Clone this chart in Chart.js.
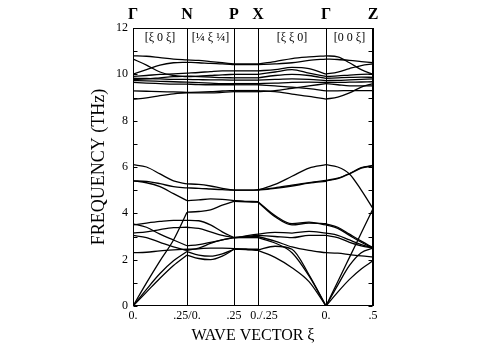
<!DOCTYPE html>
<html><head><meta charset="utf-8">
<script src="https://cdn.jsdelivr.net/npm/chart.js@4/dist/chart.umd.min.js"></script>
<style>html,body{margin:0;padding:0;background:#fff}canvas{display:block}</style>
</head><body>
<canvas id="c" width="477" height="351"></canvas>
<script>
// ---- data ----
const pointLabels = ['Γ', 'N', 'P', 'X', 'Γ', 'Z'];
const pathBreaks = [0, 54, 101, 125, 193, 240];          // path coordinate of each symmetry point
const xTickLabels = ['0.', '.25/0.', '.25', '    0./.25', '0.', '.5'];
const directionLabels = ['[ξ 0 ξ]', '[¼ ξ ¼]', '', '[ξ ξ 0]', '[0 0 ξ]'];
const samplePos = [0, 0.25, 0.5, 0.75, 1];              // fraction along each segment
const freqTicks = [0, 1, 2, 3, 4, 5, 6, 7, 8, 9, 10, 11, 12];

// frequencies (THz) of each branch at samplePos, per segment
const branchesGN = [
  [0, 0.6, 1.2, 1.75, 2.2],
  [0, 0.72, 1.4, 1.95, 2.35],
  [0, 1.0, 1.95, 2.85, 4.05],
  [2.3, 2.32, 2.38, 2.42, 2.45],
  [3.05, 2.95, 2.75, 2.55, 2.4],
  [3.15, 3.2, 3.3, 3.38, 3.4],
  [3.5, 3.58, 3.65, 3.7, 3.7],
  [3.55, 3.4, 3.1, 2.85, 2.6],
  [5.4, 5.38, 5.28, 5.15, 5.1],
  [5.4, 5.32, 5.15, 4.85, 4.55],
  [6.1, 6.0, 5.7, 5.4, 5.27],
  [10.8, 10.78, 10.72, 10.66, 10.62],
  [10.66, 10.4, 10.1, 9.95, 9.9],
  [10.01, 10.2, 10.4, 10.5, 10.52],
  [9.91, 9.95, 10.0, 10.02, 10.05],
  [9.83, 9.82, 9.8, 9.78, 9.78],
  [9.73, 9.72, 9.7, 9.68, 9.66],
  [9.65, 9.62, 9.6, 9.58, 9.58],
  [9.29, 9.27, 9.25, 9.24, 9.22],
  [8.93, 8.98, 9.08, 9.16, 9.2],
  [9.78, 9.8, 9.85, 9.9, 9.92]
];
const branchesNP = [
  [2.2, 2.05, 2.0, 2.15, 2.45],
  [2.35, 2.2, 2.15, 2.25, 2.45],
  [4.05, 4.08, 4.15, 4.35, 4.52],
  [2.45, 2.47, 2.5, 2.5, 2.48],
  [2.4, 2.5, 2.7, 2.85, 2.95],
  [3.4, 3.35, 3.2, 3.05, 2.95],
  [3.7, 3.68, 3.5, 3.2, 2.95],
  [2.6, 2.65, 2.75, 2.85, 2.95],
  [5.1, 5.08, 5.05, 5.02, 5.0],
  [4.55, 4.58, 4.62, 4.6, 4.55],
  [5.27, 5.25, 5.18, 5.08, 5.0],
  [10.62, 10.6, 10.55, 10.5, 10.45],
  [10.52, 10.5, 10.47, 10.45, 10.42],
  [10.05, 10.08, 10.12, 10.15, 10.15],
  [9.9, 9.92, 9.95, 9.98, 10.0],
  [9.92, 9.9, 9.88, 9.86, 9.85],
  [9.78, 9.77, 9.76, 9.76, 9.75],
  [9.66, 9.64, 9.62, 9.6, 9.6],
  [9.58, 9.56, 9.55, 9.55, 9.55],
  [9.22, 9.23, 9.25, 9.28, 9.3],
  [9.2, 9.2, 9.2, 9.22, 9.25]
];
const branchesPX = [
  [2.45, 2.44, 2.43, 2.42, 2.4],
  [2.45, 2.45, 2.44, 2.43, 2.42],
  [2.48, 2.47, 2.46, 2.45, 2.45],
  [2.95, 2.95, 2.95, 2.95, 2.95],
  [2.95, 2.96, 2.97, 2.99, 3.0],
  [2.95, 2.97, 3.0, 3.03, 3.05],
  [2.95, 2.98, 3.03, 3.07, 3.1],
  [4.52, 4.51, 4.5, 4.49, 4.48],
  [4.55, 4.54, 4.52, 4.51, 4.5],
  [5.0, 5.0, 5.0, 5.0, 5.0],
  [5.0, 5.0, 5.0, 5.0, 5.02],
  [10.45, 10.45, 10.45, 10.45, 10.45],
  [10.42, 10.42, 10.42, 10.42, 10.42],
  [10.15, 10.15, 10.15, 10.15, 10.15],
  [10.0, 10.0, 10.0, 10.0, 10.0],
  [9.85, 9.85, 9.85, 9.85, 9.85],
  [9.75, 9.75, 9.75, 9.75, 9.75],
  [9.6, 9.6, 9.6, 9.6, 9.6],
  [9.55, 9.55, 9.55, 9.55, 9.55],
  [9.3, 9.3, 9.3, 9.3, 9.3],
  [9.25, 9.25, 9.25, 9.25, 9.25]
];
const branchesXG = [
  [5.0, 5.25, 5.6, 5.95, 6.1],
  [5.0, 5.08, 5.18, 5.3, 5.38],
  [5.02, 5.1, 5.22, 5.33, 5.42],
  [4.5, 3.9, 3.55, 3.62, 3.5],
  [4.48, 3.85, 3.5, 3.58, 3.55],
  [3.1, 3.18, 3.15, 3.22, 3.15],
  [3.05, 3.0, 2.95, 3.05, 3.05],
  [3.0, 2.8, 2.55, 2.4, 2.3],
  [2.95, 2.72, 2.3, 1.3, 0],
  [2.42, 2.58, 2.45, 1.35, 0],
  [2.4, 2.1, 1.65, 1.05, 0],
  [10.45, 10.55, 10.68, 10.75, 10.8],
  [10.42, 10.45, 10.5, 10.6, 10.66],
  [10.15, 10.2, 10.3, 10.25, 10.01],
  [10.0, 10.1, 10.2, 10.05, 9.91],
  [9.85, 9.95, 10.0, 9.95, 9.83],
  [9.75, 9.78, 9.8, 9.78, 9.73],
  [9.6, 9.62, 9.65, 9.66, 9.65],
  [9.55, 9.5, 9.45, 9.38, 9.29],
  [9.3, 9.25, 9.15, 9.05, 8.93],
  [9.25, 9.3, 9.4, 9.5, 9.6]
];
const branchesGZ = [
  [6.1, 6.0, 5.7, 5.0, 4.2],
  [5.4, 5.5, 5.7, 5.95, 6.05],
  [5.42, 5.52, 5.72, 5.97, 6.07],
  [0, 1.05, 2.1, 3.15, 4.2],
  [0, 0.6, 1.15, 1.6, 1.95],
  [0, 0.9, 1.75, 2.3, 2.5],
  [2.3, 2.28, 2.22, 2.16, 2.12],
  [3.05, 2.95, 2.75, 2.6, 2.5],
  [3.15, 3.05, 2.85, 2.65, 2.5],
  [3.5, 3.35, 3.05, 2.75, 2.5],
  [3.55, 3.4, 3.1, 2.8, 2.52],
  [10.8, 10.75, 10.5, 10.2, 10.0],
  [10.66, 10.64, 10.6, 10.55, 10.5],
  [10.01, 10.1, 10.25, 10.38, 10.45],
  [9.91, 9.93, 9.97, 10.0, 10.01],
  [9.83, 9.85, 9.87, 9.88, 9.87],
  [9.73, 9.74, 9.76, 9.78, 9.8],
  [9.65, 9.65, 9.66, 9.67, 9.68],
  [9.6, 9.55, 9.5, 9.5, 9.5],
  [9.29, 9.29, 9.3, 9.3, 9.3],
  [8.93, 9.02, 9.2, 9.45, 9.6]
];
const segments = [branchesGN, branchesNP, branchesPX, branchesXG, branchesGZ];

// ---- build datasets ----
const datasets = [];
segments.forEach((branches, s) => {
  const x0 = pathBreaks[s], x1 = pathBreaks[s + 1];
  branches.forEach(b => {
    datasets.push({
      data: samplePos.map((t, i) => ({ x: x0 + t * (x1 - x0), y: b[i] })),
      borderColor: '#000', borderWidth: 1.3, pointRadius: 0,
      cubicInterpolationMode: 'monotone', fill: false
    });
  });
});

const serif = 'Liberation Serif';
const setBreakTicks = s => { s.ticks = pathBreaks.map(v => ({ value: v })); };

const decor = {
  id: 'decor',
  afterDraw(chart) {
    const { ctx, chartArea: a, scales } = chart;
    const y = scales.y;
    ctx.save();
    ctx.strokeStyle = '#000';
    ctx.lineWidth = 1;
    const L = Math.round(a.left) + 0.5, R = Math.round(a.right) - 0.5;
    const T = Math.round(a.top) + 0.5, B = Math.round(a.bottom) - 0.5;
    ctx.strokeRect(L, T, R - L, B - T);
    ctx.beginPath();
    freqTicks.forEach(v => {
      const py = Math.round(y.getPixelForValue(v)) + 0.5;
      ctx.moveTo(L, py); ctx.lineTo(L + 4, py);
      ctx.moveTo(R, py); ctx.lineTo(R - 4, py);
    });
    ctx.stroke();
    ctx.fillStyle = '#000';
    ctx.font = '12px "' + serif + '"';
    ctx.textAlign = 'center';
    ctx.textBaseline = 'middle';
    const x = scales.x;
    directionLabels.forEach((t, i) => {
      if (!t) return;
      const cx = (x.getPixelForValue(pathBreaks[i]) + x.getPixelForValue(pathBreaks[i + 1])) / 2;
      ctx.fillText(t, cx, a.top + 10);
    });
    ctx.restore();
  }
};

new Chart(document.getElementById('c'), {
  type: 'line',
  data: { datasets },
  options: {
    responsive: false, animation: false, devicePixelRatio: 1,
    layout: { padding: { left: 0, right: 104, top: 0, bottom: 0 } },
    plugins: { legend: { display: false }, tooltip: { enabled: false } },
    scales: {
      x: {
        type: 'linear', position: 'bottom', min: pathBreaks[0], max: pathBreaks[pathBreaks.length - 1],
        afterBuildTicks: setBreakTicks,
        afterFit: s => { s.height = 45; },
        grid: { display: true, color: '#000', lineWidth: 1, drawTicks: false },
        border: { display: false },
        ticks: {
          autoSkip: false, maxRotation: 0, padding: 3, color: '#000',
          font: { family: serif, size: 12 },
          callback: (v, i) => xTickLabels[i]
        },
        title: { display: true, text: 'WAVE VECTOR ξ', color: '#000',
          font: { family: serif, size: 16 }, padding: { top: 0, bottom: 6 } }
      },
      x2: {
        type: 'linear', position: 'top', min: pathBreaks[0], max: pathBreaks[pathBreaks.length - 1],
        afterBuildTicks: setBreakTicks,
        afterFit: s => { s.height = 28; },
        grid: { display: false, drawTicks: false },
        border: { display: false },
        ticks: {
          autoSkip: false, maxRotation: 0, padding: 4, color: '#000',
          font: { family: serif, size: 16, weight: 'bold' },
          callback: (v, i) => pointLabels[i]
        }
      },
      y: {
        type: 'linear', min: 0, max: 12,
        afterBuildTicks: s => { s.ticks = freqTicks.map(v => ({ value: v })); },
        afterFit: s => { s.width = 133; },
        grid: { display: false, drawTicks: false },
        border: { display: false },
        ticks: { padding: 5, color: '#000', font: { family: serif, size: 12 },
          callback: v => (v % 2 === 0 ? String(v) : '') },
        title: { display: true, text: 'FREQUENCY (THz)', color: '#000',
          font: { family: serif, size: 18 }, padding: { top: 88, bottom: 0 } }
      }
    }
  },
  plugins: [decor]
});
</script>
</body></html>
